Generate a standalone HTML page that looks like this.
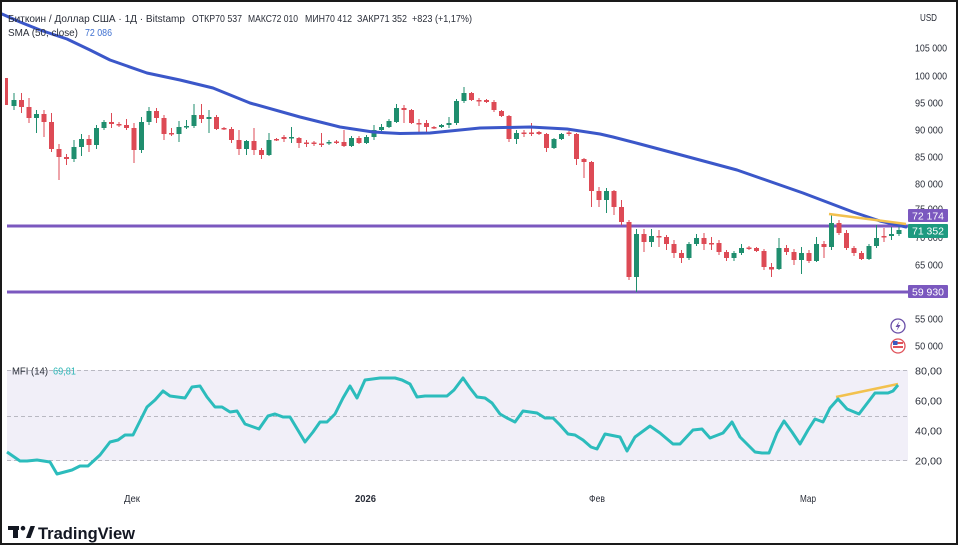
<!DOCTYPE html>
<html><head><meta charset="utf-8"><style>
html,body{margin:0;padding:0;background:#fff;}
svg{display:block;font-family:"Liberation Sans","DejaVu Sans",sans-serif;}
</style></head><body>
<svg width="960" height="547" viewBox="0 0 960 547" xmlns="http://www.w3.org/2000/svg">
<rect x="0" y="0" width="960" height="547" fill="#fff"/>
<rect x="7" y="370" width="901" height="91" fill="#f1eff8"/>
<g stroke="#b9b9c2" stroke-width="1" stroke-dasharray="4,3">
<line x1="7" y1="370.5" x2="908" y2="370.5"/>
<line x1="7" y1="416.5" x2="908" y2="416.5"/>
<line x1="7" y1="460.5" x2="908" y2="460.5"/>
</g>
<line x1="7" y1="226" x2="910" y2="226" stroke="#7b58bf" stroke-width="3"/>
<line x1="7" y1="292" x2="910" y2="292" stroke="#7b58bf" stroke-width="3"/>
<path fill="none" stroke="#dd4a55" stroke-width="1" d="M6.5 78V105M21.5 93V113M29 98V123M44 110V137M51.5 113V152M59 144V180M66.5 154V165M89 135V152M111.5 113V128M119 122V127M126.5 119V130M134 123V163M156.5 108V123M164 115V140M171.5 128V136M201.5 104V123M216.5 115V130M224 127V130M231.5 127V143M239 130V155M254 128V155M261.5 148V159M276.5 138V141M284 135V142M299 137V148M306.5 140V147M314 141V146M321.5 133V147M336.5 140V144M344 130V147M359 136V144M404 105V123M411.5 109V124M419 119V132M426.5 120V133M434 126V129M471.5 92V101M479 98V106M486.5 99V103M494 100V112M501.5 110V117M509 115V142M524 130V137M531.5 123V136M539 131V135M546.5 133V152M569 131V136M576.5 133V165M584 158V178M591.5 161V207M599 187V207M614 190V215M621.5 200V225M629 220V280M644 229V252M659 230V247M666.5 235V250M674 240V258M681.5 250V263M704 233V250M711.5 237V250M719 240V255M726.5 250V261M749 246V250M756.5 247V252M764 249V270M771.5 263V277M786.5 245V255M794 249V265M809 250V263M824 241V258M839 220V235M846.5 230V250M854 246V256M861.5 251V260M884 228V242"/>
<path fill="none" stroke="#1f8e6e" stroke-width="1" d="M14 93V110M36.5 110V133M74 140V162M81.5 134V156M96.5 125V149M104 120V130M141.5 117V153M149 107V125M179 121V142M186.5 120V129M194 104V128M209 110V133M246.5 140V155M269 133V156M291.5 127V143M329 140V145M351.5 136V147M366.5 135V144M374 125V140M381.5 124V131M389 119V128M396.5 104V123M441.5 124V128M449 117V128M456.5 99V125M464 87V103M516.5 130V144M554 138V149M561.5 133V140M606.5 188V213M636.5 229V292M651.5 229V247M689 242V260M696.5 234V246M734 251V261M741.5 244V255M779 238V270M801.5 247V274M816.5 237V262M831.5 215V250M869 244V260M876.5 225V248M891.5 227V240M899 226V236"/>
<g fill="#dd4a55">
<rect x="5" y="78" width="3" height="27"/>
<rect x="19" y="100" width="5" height="7"/>
<rect x="26.5" y="107" width="5" height="11"/>
<rect x="41.5" y="114" width="5" height="8"/>
<rect x="49" y="122" width="5" height="27"/>
<rect x="56.5" y="149" width="5" height="8"/>
<rect x="64" y="157" width="5" height="2"/>
<rect x="86.5" y="139" width="5" height="6"/>
<rect x="109" y="122" width="5" height="2"/>
<rect x="116.5" y="124" width="5" height="1.5"/>
<rect x="124" y="125" width="5" height="3"/>
<rect x="131.5" y="128" width="5" height="22"/>
<rect x="154" y="111" width="5" height="7"/>
<rect x="161.5" y="118" width="5" height="16"/>
<rect x="169" y="133" width="5" height="1.5"/>
<rect x="199" y="115" width="5" height="4"/>
<rect x="214" y="117" width="5" height="12"/>
<rect x="221.5" y="128" width="5" height="1.5"/>
<rect x="229" y="129" width="5" height="11"/>
<rect x="236.5" y="140" width="5" height="9"/>
<rect x="251.5" y="141" width="5" height="9"/>
<rect x="259" y="150" width="5" height="5"/>
<rect x="274" y="139" width="5" height="1.5"/>
<rect x="281.5" y="137" width="5" height="2"/>
<rect x="296.5" y="138" width="5" height="5"/>
<rect x="304" y="142.5" width="5" height="1.5"/>
<rect x="311.5" y="142.5" width="5" height="1.5"/>
<rect x="319" y="143.5" width="5" height="1.5"/>
<rect x="334" y="141.5" width="5" height="1.5"/>
<rect x="341.5" y="142" width="5" height="4"/>
<rect x="356.5" y="138" width="5" height="5"/>
<rect x="401.5" y="108" width="5" height="2"/>
<rect x="409" y="110" width="5" height="13"/>
<rect x="416.5" y="123" width="5" height="1.5"/>
<rect x="424" y="123" width="5" height="4"/>
<rect x="431.5" y="127" width="5" height="1.5"/>
<rect x="469" y="93" width="5" height="7"/>
<rect x="476.5" y="100" width="5" height="1.5"/>
<rect x="484" y="100" width="5" height="2"/>
<rect x="491.5" y="102" width="5" height="8"/>
<rect x="499" y="111" width="5" height="5"/>
<rect x="506.5" y="116" width="5" height="23"/>
<rect x="521.5" y="132.5" width="5" height="1.5"/>
<rect x="529" y="132.5" width="5" height="1.5"/>
<rect x="536.5" y="132" width="5" height="2"/>
<rect x="544" y="134" width="5" height="14"/>
<rect x="566.5" y="132.5" width="5" height="1.5"/>
<rect x="574" y="134" width="5" height="25"/>
<rect x="581.5" y="159" width="5" height="3"/>
<rect x="589" y="162" width="5" height="29"/>
<rect x="596.5" y="191" width="5" height="9"/>
<rect x="611.5" y="191" width="5" height="16"/>
<rect x="619" y="207" width="5" height="15"/>
<rect x="626.5" y="222" width="5" height="55"/>
<rect x="641.5" y="234" width="5" height="8"/>
<rect x="656.5" y="236" width="5" height="1.5"/>
<rect x="664" y="237" width="5" height="7"/>
<rect x="671.5" y="244" width="5" height="9"/>
<rect x="679" y="253" width="5" height="5"/>
<rect x="701.5" y="238" width="5" height="6"/>
<rect x="709" y="243" width="5" height="1.5"/>
<rect x="716.5" y="243" width="5" height="9"/>
<rect x="724" y="252" width="5" height="6"/>
<rect x="746.5" y="247.5" width="5" height="1.5"/>
<rect x="754" y="248" width="5" height="3"/>
<rect x="761.5" y="251" width="5" height="16"/>
<rect x="769" y="267" width="5" height="2.5"/>
<rect x="784" y="248" width="5" height="4"/>
<rect x="791.5" y="252" width="5" height="8"/>
<rect x="806.5" y="253" width="5" height="8"/>
<rect x="821.5" y="244" width="5" height="3"/>
<rect x="836.5" y="223" width="5" height="10"/>
<rect x="844" y="233" width="5" height="15"/>
<rect x="851.5" y="248" width="5" height="5"/>
<rect x="859" y="253" width="5" height="6"/>
<rect x="881.5" y="236" width="5" height="1.5"/>
</g>
<g fill="#1f8e6e">
<rect x="11.5" y="100" width="5" height="6"/>
<rect x="34" y="114" width="5" height="4"/>
<rect x="71.5" y="147" width="5" height="12"/>
<rect x="79" y="139" width="5" height="8"/>
<rect x="94" y="128" width="5" height="17"/>
<rect x="101.5" y="122" width="5" height="6"/>
<rect x="139" y="122" width="5" height="28"/>
<rect x="146.5" y="111" width="5" height="11"/>
<rect x="176.5" y="127" width="5" height="7"/>
<rect x="184" y="126" width="5" height="1.5"/>
<rect x="191.5" y="115" width="5" height="11"/>
<rect x="206.5" y="117" width="5" height="2"/>
<rect x="244" y="141" width="5" height="8"/>
<rect x="266.5" y="140" width="5" height="15"/>
<rect x="289" y="137" width="5" height="1.5"/>
<rect x="326.5" y="142" width="5" height="1.5"/>
<rect x="349" y="138" width="5" height="8"/>
<rect x="364" y="137" width="5" height="6"/>
<rect x="371.5" y="130" width="5" height="7"/>
<rect x="379" y="127" width="5" height="3"/>
<rect x="386.5" y="121" width="5" height="6"/>
<rect x="394" y="108" width="5" height="14"/>
<rect x="439" y="125" width="5" height="2"/>
<rect x="446.5" y="123" width="5" height="2"/>
<rect x="454" y="101" width="5" height="22"/>
<rect x="461.5" y="93" width="5" height="8"/>
<rect x="514" y="133" width="5" height="6"/>
<rect x="551.5" y="139" width="5" height="9"/>
<rect x="559" y="134" width="5" height="5"/>
<rect x="604" y="191" width="5" height="9"/>
<rect x="634" y="234" width="5" height="43"/>
<rect x="649" y="236" width="5" height="6"/>
<rect x="686.5" y="244" width="5" height="14"/>
<rect x="694" y="238" width="5" height="6"/>
<rect x="731.5" y="253" width="5" height="5"/>
<rect x="739" y="248" width="5" height="5"/>
<rect x="776.5" y="248" width="5" height="21"/>
<rect x="799" y="253" width="5" height="7"/>
<rect x="814" y="244" width="5" height="17"/>
<rect x="829" y="223" width="5" height="24"/>
<rect x="866.5" y="246" width="5" height="13"/>
<rect x="874" y="238" width="5" height="8"/>
<rect x="889" y="234" width="5" height="2"/>
<rect x="896.5" y="230" width="5" height="4"/>
</g>
<polyline fill="none" stroke="#3b57c9" stroke-width="3" stroke-linejoin="round" stroke-linecap="round" points="2,14 20,22 40,30 67,39 90,50 110,60 147,73 180,80 213,88 250,103 300,117 340,127 373,132 400,133.5 430,133 480,128 530,127 567,129 600,134 613,137 640,144 670,152 737,170 803,193 853,212 880,221 906,227"/>
<line x1="829" y1="214" x2="906" y2="224" stroke="#f2c14e" stroke-width="2.5"/>
<line x1="836" y1="397" x2="898" y2="384" stroke="#f2c14e" stroke-width="2.5"/>
<polyline fill="none" stroke="#2cbcbc" stroke-width="3" stroke-linejoin="round" points="7,452 20,461 27,461 37,460 50,462 57,474 72,470 80,466 88,466 100,455 110,442 118,440 125,435 133,435 147,407 155,400 163,391 170,396 185,398 192,387 200,386 207,397 215,407 222,407 230,412 237,411 245,424 259,429 268,416 275,414 283,417 290,417 305,442 313,432 320,422 327,422 335,414 343,398 350,386 357,398 365,380 380,378 395,378 402,380 410,384 417,397 425,396 447,396 454,390 463,378 470,388 477,397 485,398 492,403 500,414 507,418 515,422 523,411 530,412 537,413 545,418 553,418 560,425 568,434 575,435 583,440 591,447 597,449 605,434 620,437 627,451 635,437 650,426 660,433 673,444 680,444 693,430 702,429 710,438 723,433 732,422 740,437 755,452 762,453 769,453 777,433 784,421 792,432 800,444 808,430 815,419 823,422 830,408 838,399 847,409 859,414 875,393 888,393 893,391 898,385"/>
<g font-size="10.5" fill="#2a2e39">
<text x="8" y="22" textLength="177" lengthAdjust="spacingAndGlyphs">Биткоин / Доллар США · 1Д · Bitstamp</text>
<text x="192" y="22" textLength="50" lengthAdjust="spacingAndGlyphs">ОТКР70 537</text>
<text x="248" y="22" textLength="50" lengthAdjust="spacingAndGlyphs">МАКС72 010</text>
<text x="305" y="22" textLength="47" lengthAdjust="spacingAndGlyphs">МИН70 412</text>
<text x="357" y="22" textLength="50" lengthAdjust="spacingAndGlyphs">ЗАКР71 352</text>
<text x="412" y="22" textLength="60" lengthAdjust="spacingAndGlyphs">+823 (+1,17%)</text>
<text x="8" y="36" textLength="70" lengthAdjust="spacingAndGlyphs">SMA (50, close)</text>
<text x="85" y="36" fill="#3d6fd0" textLength="27" lengthAdjust="spacingAndGlyphs">72 086</text>
<text x="12" y="374.5" font-size="10" textLength="36" lengthAdjust="spacingAndGlyphs">MFI (14)</text>
<text x="53" y="374.5" font-size="10" fill="#2cb5b5" textLength="23" lengthAdjust="spacingAndGlyphs">69,81</text>
</g>
<g font-size="10.5" fill="#2a2e39">
<text x="920" y="21" textLength="17" lengthAdjust="spacingAndGlyphs">USD</text>
<text x="915" y="51.5" textLength="32" lengthAdjust="spacingAndGlyphs">105 000</text>
<text x="915" y="79.5" textLength="32" lengthAdjust="spacingAndGlyphs">100 000</text>
<text x="915" y="106.5" textLength="28" lengthAdjust="spacingAndGlyphs">95 000</text>
<text x="915" y="133.5" textLength="28" lengthAdjust="spacingAndGlyphs">90 000</text>
<text x="915" y="160.5" textLength="28" lengthAdjust="spacingAndGlyphs">85 000</text>
<text x="915" y="187.5" textLength="28" lengthAdjust="spacingAndGlyphs">80 000</text>
<text x="915" y="212.5" textLength="28" lengthAdjust="spacingAndGlyphs">75 000</text>
<text x="915" y="241" textLength="28" lengthAdjust="spacingAndGlyphs">70 000</text>
<text x="915" y="268.5" textLength="28" lengthAdjust="spacingAndGlyphs">65 000</text>
<text x="915" y="322.5" textLength="28" lengthAdjust="spacingAndGlyphs">55 000</text>
<text x="915" y="349.5" textLength="28" lengthAdjust="spacingAndGlyphs">50 000</text>
<text x="915" y="374.5" textLength="27" lengthAdjust="spacingAndGlyphs">80,00</text>
<text x="915" y="404.5" textLength="27" lengthAdjust="spacingAndGlyphs">60,00</text>
<text x="915" y="434.5" textLength="27" lengthAdjust="spacingAndGlyphs">40,00</text>
<text x="915" y="464.5" textLength="27" lengthAdjust="spacingAndGlyphs">20,00</text>
</g>
<rect x="908" y="209" width="40" height="13" rx="1" fill="#7b58bf"/>
<text x="912" y="219.5" font-size="10.5" fill="#fff" textLength="32" lengthAdjust="spacingAndGlyphs">72 174</text>
<rect x="908" y="224" width="40" height="14" rx="1" fill="#1e9a80"/>
<text x="912" y="234.5" font-size="10.5" fill="#fff" textLength="32" lengthAdjust="spacingAndGlyphs">71 352</text>
<rect x="908" y="285" width="40" height="13" rx="1" fill="#7b58bf"/>
<text x="912" y="295.5" font-size="10.5" fill="#fff" textLength="32" lengthAdjust="spacingAndGlyphs">59 930</text>
<circle cx="898" cy="326" r="7" fill="#fff" stroke="#6a4fa8" stroke-width="1.3"/>
<path d="M899.5 321 L895.5 327 L898 327 L896.5 331 L900.5 325 L898 325 Z" fill="#6a4fa8"/>
<circle cx="898" cy="346" r="7" fill="#fff" stroke="#e0525a" stroke-width="1.3"/>
<rect x="893" y="342" width="10" height="2" fill="#e0525a"/>
<rect x="893" y="346" width="10" height="2" fill="#e0525a"/>
<rect x="893" y="341" width="4.5" height="4" fill="#3a5bc0"/>
<g font-size="10" fill="#2a2e39">
<text x="124" y="502" textLength="16" lengthAdjust="spacingAndGlyphs">Дек</text>
<text x="355" y="502" font-weight="bold" textLength="21" lengthAdjust="spacingAndGlyphs">2026</text>
<text x="589" y="502" textLength="16" lengthAdjust="spacingAndGlyphs">Фев</text>
<text x="800" y="502" textLength="16" lengthAdjust="spacingAndGlyphs">Мар</text>
</g>
<g fill="#131722">
<rect x="8" y="526" width="11" height="4"/>
<rect x="13" y="526" width="5" height="12"/>
<circle cx="23" cy="528.2" r="2.3"/>
<polygon points="26,538 30.5,526 35,526 30.5,538"/>
<text x="38" y="539" font-size="17" font-weight="bold" textLength="97" lengthAdjust="spacingAndGlyphs">TradingView</text>
</g>
<rect x="1" y="1" width="956" height="543" fill="none" stroke="#1a1a1a" stroke-width="2"/>
</svg>
</body></html>
